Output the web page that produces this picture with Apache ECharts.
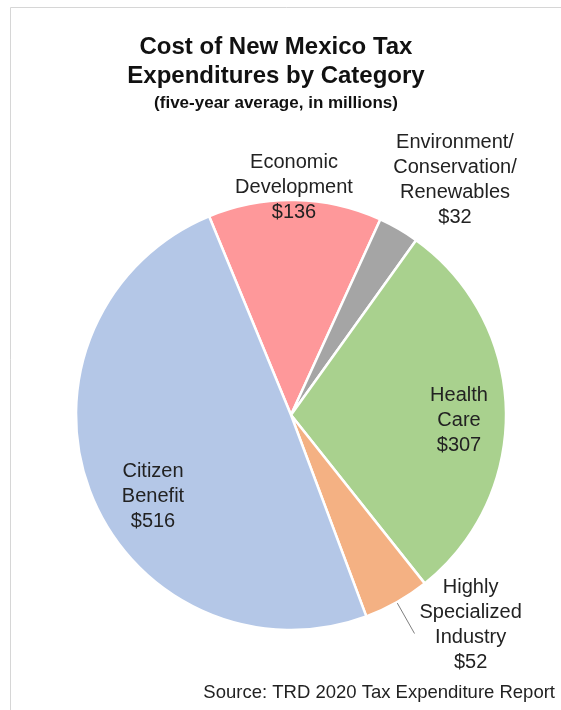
<!DOCTYPE html>
<html>
<head>
  <meta charset="utf-8">
  <title>Cost of New Mexico Tax Expenditures by Category</title>
  <script src="https://cdn.jsdelivr.net/npm/echarts@6/dist/echarts.min.js"></script>
  <style>
    html, body {
      margin: 0;
      padding: 0;
      background: #fff;
    }

    #chart {
      width: 561px;
      height: 710px;
    }
  </style>
</head>
<body>
<div id="chart"></div>
<script>
  // data (millions of dollars, five-year average)
  var categories = ['Economic Development', 'Environment/Conservation/Renewables', 'Health Care',
    'Highly Specialized Industry', 'Citizen Benefit'];
  var values = [136, 32, 307, 52, 516];
  var labelText = [
    ['Economic', 'Development'],
    ['Environment/', 'Conservation/', 'Renewables'],
    ['Health', 'Care'],
    ['Highly', 'Specialized', 'Industry'],
    ['Citizen', 'Benefit']
  ];
  var colors = ['#FE989A', '#A5A5A5', '#A9D18E', '#F4B183', '#B4C7E7'];

  // where the labels sit (null = leave it on the leader line)
  var labelSpot = [[294, 187], [455, 180], [459, 420], null, [153, 496]];

  var chart = echarts.init(document.getElementById('chart'), null, {renderer: 'canvas'});

  var pieData = [];
  for (var i = 0; i < categories.length; i++) {
    var item = {
      name: categories[i],
      value: values[i],
      itemStyle: {color: colors[i]},
      labelLine: {show: false}
    };
    if (labelSpot[i] === null) {
      item.label = {position: 'outside', padding: [0, 0, 18, 0], distanceToLabelLine: 5};
      item.labelLine = {
        show: true,
        length: 36,
        length2: 0,
        smooth: false,
        lineStyle: {color: '#7f7f7f', width: 1}
      };
    }
    pieData.push(item);
  }

  var option = {
    backgroundColor: '#fff',
    animation: false,
    title: {
      text: 'Cost of New Mexico Tax\nExpenditures by Category',
      subtext: '(five-year average, in millions)',
      left: 271,
      top: 28,
      textAlign: 'center',
      itemGap: 2,
      textStyle: {
        fontFamily: 'Liberation Sans, Arial',
        fontWeight: 'bold',
        fontSize: 24,
        lineHeight: 29,
        color: '#111'
      },
      subtextStyle: {
        fontFamily: 'Liberation Sans, Arial',
        fontWeight: 'bold',
        fontSize: 17,
        lineHeight: 20,
        color: '#111'
      }
    },
    graphic: [
      {
        // thin frame round the picture (top and left edges show)
        type: 'rect',
        silent: true,
        shape: {x: 10.5, y: 7.5, width: 700, height: 800},
        style: {fill: null, stroke: '#d6d6d6', lineWidth: 1}
      },
      {
        type: 'text',
        right: 6,
        top: 683,
        style: {
          text: 'Source: TRD 2020 Tax Expenditure Report',
          fontFamily: 'Liberation Sans, Arial',
          fontSize: 18.5,
          fill: '#222'
        }
      }
    ],
    series: [
      {
        type: 'pie',
        center: [291, 415],
        radius: 215,
        startAngle: 112.4,
        clockwise: true,
        avoidLabelOverlap: false,
        itemStyle: {
          borderColor: '#fff',
          borderWidth: 2.5
        },
        label: {
          show: true,
          fontFamily: 'Liberation Sans, Arial',
          fontSize: 20,
          lineHeight: 25,
          color: '#222',
          formatter: function (p) {
            var lines = labelText[p.dataIndex].concat(['$' + p.value]);
            return lines.map(function (s) {
              return '{c|' + s + '}';
            }).join('\n');
          },
          rich: {
            c: {
              align: 'center',
              fontFamily: 'Liberation Sans, Arial',
              fontSize: 20,
              lineHeight: 25,
              color: '#222'
            }
          }
        },
        labelLayout: function (params) {
          var spot = labelSpot[params.dataIndex];
          if (!spot) {
            return {};
          }
          return {
            x: spot[0],
            y: spot[1],
            align: 'center',
            verticalAlign: 'middle'
          };
        },
        emphasis: {disabled: true},
        data: pieData
      }
    ]
  };

  chart.setOption(option);
</script>
</body>
</html>
